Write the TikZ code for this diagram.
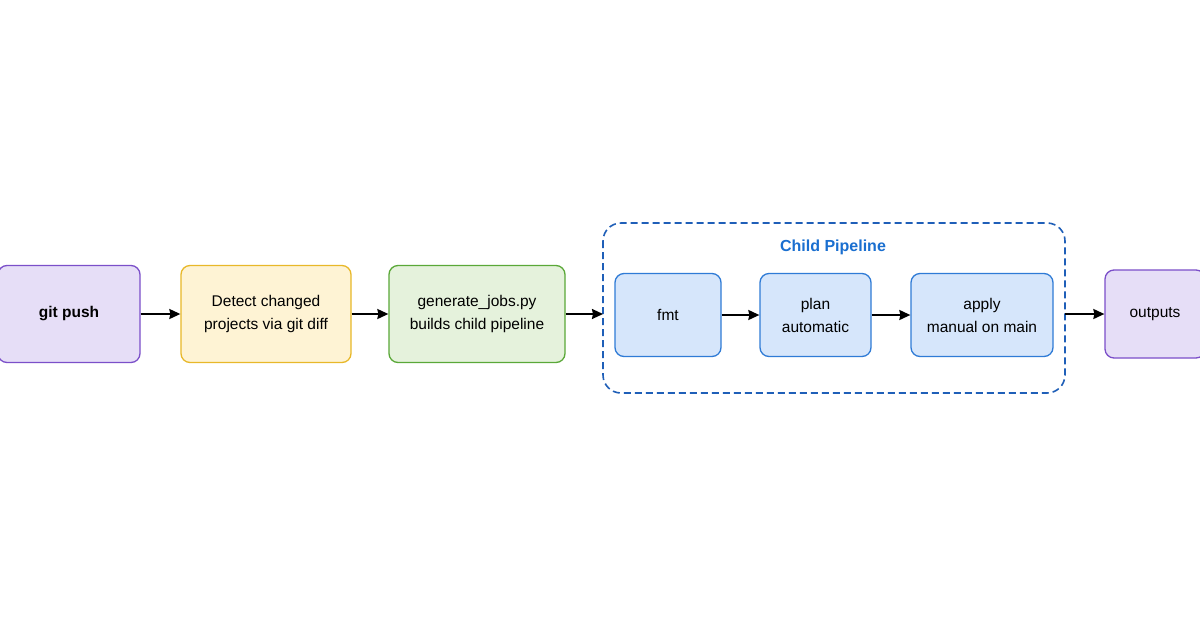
\documentclass[tikz,border=0pt]{standalone}
\usepackage{fontspec}
\setmainfont{Liberation Sans}
\usetikzlibrary{arrows.meta}
\definecolor{pfill}{HTML}{E6DEF7}\definecolor{pdraw}{HTML}{7B4FC9}
\definecolor{yfill}{HTML}{FEF3D4}\definecolor{ydraw}{HTML}{E8B829}
\definecolor{gfill}{HTML}{E5F2DC}\definecolor{gdraw}{HTML}{5AA838}
\definecolor{bfill}{HTML}{D6E6FB}\definecolor{bdraw}{HTML}{2F7BD6}
\definecolor{ctitle}{HTML}{1A6FD0}\definecolor{cdash}{HTML}{1F5FB8}
\begin{document}
\begin{tikzpicture}[x=1pt,y=-1pt,
  box/.style={draw,rounded corners=9pt,line width=1.3pt,align=center,font=\fontsize{15.5}{23}\selectfont,inner sep=0pt},
  arr/.style={-{Stealth[length=11pt,width=10pt,inset=1pt]},line width=1.8pt}]
\useasboundingbox (0,0) rectangle (1200,630);
\clip (0,0) rectangle (1200,630);
\fill[white] (0,0) rectangle (1200,630);
\draw[cdash,dash pattern=on 7pt off 4pt,line width=1.6pt,rounded corners=18pt] (603,223) rectangle (1065,393);
\node[font=\bfseries\fontsize{16}{18}\selectfont,text=ctitle] (title) at (833,247) {Child Pipeline};
\node[box,fill=pfill,draw=pdraw,minimum width=142pt,minimum height=97pt,font=\bfseries\fontsize{15.5}{20}\selectfont] (push) at (69,314) {git push};
\node[box,fill=yfill,draw=ydraw,minimum width=170pt,minimum height=97pt] (detect) at (266,314) {Detect changed\\projects via git diff};
\node[box,fill=gfill,draw=gdraw,minimum width=176pt,minimum height=97pt] (gen) at (477,314) {generate\_jobs.py\\builds child pipeline};
\node[box,fill=bfill,draw=bdraw,minimum width=106pt,minimum height=83pt] (fmt) at (668,315) {fmt};
\node[box,fill=bfill,draw=bdraw,minimum width=111pt,minimum height=83pt] (plan) at (815.5,315) {plan\\automatic};
\node[box,fill=bfill,draw=bdraw,minimum width=142pt,minimum height=83pt] (apply) at (982,315) {apply\\manual on main};
\node[box,fill=pfill,draw=pdraw,minimum width=100pt,minimum height=88pt] (out) at (1155,314) {outputs};
\coordinate (cR) at (1065,314);
\coordinate (cL) at (603,314);
\draw[arr] (push) -- (detect);
\draw[arr] (detect) -- (gen);
\draw[arr] (gen.east) -- (cL);
\draw[arr] (fmt) -- (plan);
\draw[arr] (plan) -- (apply);
\draw[arr] (cR) -- (out.west);
\end{tikzpicture}
\end{document}
